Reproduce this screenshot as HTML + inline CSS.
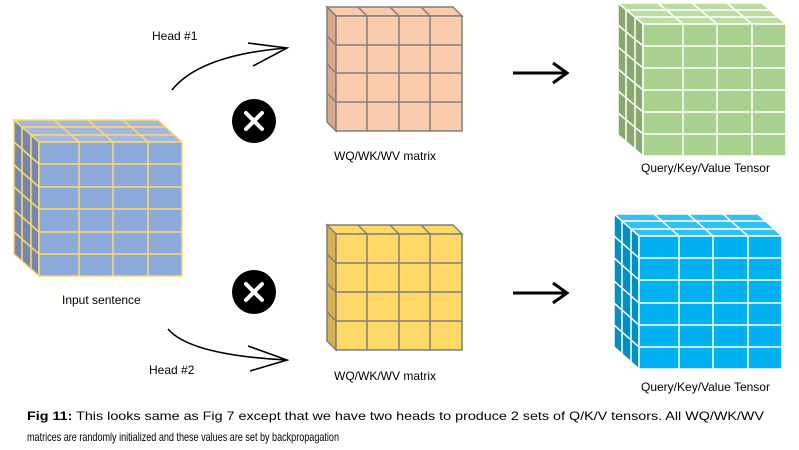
<!DOCTYPE html>
<html><head><meta charset="utf-8"><style>
html,body{margin:0;padding:0;background:#fff;}
svg{display:block;}
text{font-family:"Liberation Sans",sans-serif;font-size:12px;fill:#000;}
</style></head><body>
<svg width="799" height="450" viewBox="0 0 799 450" xmlns="http://www.w3.org/2000/svg">
<rect width="799" height="450" fill="#fff"/>

<!-- Input cube -->
<g stroke="#ffd966" stroke-width="1.5">
<polygon points="14,120 158,120 182,142 39,142" fill="#a3b6e0"/>
<polygon points="14,120 39,142 39,276 14,254" fill="#7387b0"/>
<line x1="22" y1="127" x2="166" y2="127"/><line x1="31" y1="135" x2="174" y2="135"/>
<line x1="22" y1="127" x2="22" y2="261"/><line x1="31" y1="135" x2="31" y2="269"/>
<line x1="54" y1="120" x2="79" y2="142"/><line x1="88" y1="120" x2="113" y2="142"/><line x1="123" y1="120" x2="148" y2="142"/>
<line x1="14" y1="142" x2="39" y2="164"/><line x1="14" y1="165" x2="39" y2="187"/><line x1="14" y1="187" x2="39" y2="209"/><line x1="14" y1="210" x2="39" y2="232"/><line x1="14" y1="232" x2="39" y2="254"/>
<rect x="39" y="142" width="143" height="134" fill="#8eaadb"/>
<line x1="79" y1="142" x2="79" y2="276"/><line x1="113" y1="142" x2="113" y2="276"/><line x1="148" y1="142" x2="148" y2="276"/>
<line x1="39" y1="164" x2="182" y2="164"/><line x1="39" y1="187" x2="182" y2="187"/><line x1="39" y1="209" x2="182" y2="209"/><line x1="39" y1="232" x2="182" y2="232"/><line x1="39" y1="254" x2="182" y2="254"/>
</g>

<!-- Orange matrix -->
<g stroke="#7f7f7f" stroke-width="1.5">
<polygon points="327,7 453,7 462,16 336,16" fill="#f8cbad"/>
<polygon points="327,7 336,16 336,131 327,122" fill="#d6a88a"/>
<line x1="358" y1="7" x2="367" y2="16"/><line x1="390" y1="7" x2="399" y2="16"/><line x1="421" y1="7" x2="430" y2="16"/>
<line x1="327" y1="36" x2="336" y2="45"/><line x1="327" y1="64" x2="336" y2="73"/><line x1="327" y1="93" x2="336" y2="102"/>
<rect x="336" y="16" width="126" height="115" fill="#f8cbad"/>
<line x1="367" y1="16" x2="367" y2="131"/><line x1="399" y1="16" x2="399" y2="131"/><line x1="430" y1="16" x2="430" y2="131"/>
<line x1="336" y1="45" x2="462" y2="45"/><line x1="336" y1="73" x2="462" y2="73"/><line x1="336" y1="102" x2="462" y2="102"/>
</g>

<!-- Yellow matrix -->
<g stroke="#7f7f7f" stroke-width="1.5">
<polygon points="327,225 453,225 462,234 336,234" fill="#ffd966"/>
<polygon points="327,225 336,234 336,350 327,341" fill="#d4b24f"/>
<line x1="358" y1="225" x2="367" y2="234"/><line x1="390" y1="225" x2="399" y2="234"/><line x1="421" y1="225" x2="430" y2="234"/>
<line x1="327" y1="254" x2="336" y2="263"/><line x1="327" y1="283" x2="336" y2="292"/><line x1="327" y1="312" x2="336" y2="321"/>
<rect x="336" y="234" width="126" height="116" fill="#ffd966"/>
<line x1="367" y1="234" x2="367" y2="350"/><line x1="399" y1="234" x2="399" y2="350"/><line x1="430" y1="234" x2="430" y2="350"/>
<line x1="336" y1="263" x2="462" y2="263"/><line x1="336" y1="292" x2="462" y2="292"/><line x1="336" y1="321" x2="462" y2="321"/>
</g>

<!-- Green tensor -->
<g stroke="#fff" stroke-width="1.5">
<polygon points="618,3 762,3 786,24 643,24" fill="#bcdca4"/>
<polygon points="618,3 643,24 643,156 618,135" fill="#88a86e"/>
<line x1="626" y1="10" x2="770" y2="10"/><line x1="635" y1="17" x2="778" y2="17"/>
<line x1="626" y1="10" x2="626" y2="142"/><line x1="635" y1="17" x2="635" y2="149"/>
<line x1="658" y1="3" x2="683" y2="24"/><line x1="692" y1="3" x2="717" y2="24"/><line x1="727" y1="3" x2="752" y2="24"/>
<line x1="618" y1="25" x2="643" y2="46"/><line x1="618" y1="47" x2="643" y2="68"/><line x1="618" y1="69" x2="643" y2="90"/><line x1="618" y1="91" x2="643" y2="112"/><line x1="618" y1="113" x2="643" y2="134"/>
<rect x="643" y="24" width="143" height="132" fill="#a9d18e"/>
<line x1="683" y1="24" x2="683" y2="156"/><line x1="717" y1="24" x2="717" y2="156"/><line x1="752" y1="24" x2="752" y2="156"/>
<line x1="643" y1="46" x2="786" y2="46"/><line x1="643" y1="68" x2="786" y2="68"/><line x1="643" y1="90" x2="786" y2="90"/><line x1="643" y1="112" x2="786" y2="112"/><line x1="643" y1="134" x2="786" y2="134"/>
</g>

<!-- Blue tensor -->
<g stroke="#fff" stroke-width="1.5">
<polygon points="614,214 758,214 782,236 639,236" fill="#33c1f3"/>
<polygon points="614,214 639,236 639,369 614,347" fill="#0090c4"/>
<line x1="622" y1="221" x2="766" y2="221"/><line x1="631" y1="229" x2="774" y2="229"/>
<line x1="622" y1="221" x2="622" y2="354"/><line x1="631" y1="229" x2="631" y2="362"/>
<line x1="654" y1="214" x2="679" y2="236"/><line x1="688" y1="214" x2="713" y2="236"/><line x1="723" y1="214" x2="748" y2="236"/>
<line x1="614" y1="236" x2="639" y2="258"/><line x1="614" y1="258" x2="639" y2="280"/><line x1="614" y1="281" x2="639" y2="303"/><line x1="614" y1="303" x2="639" y2="325"/><line x1="614" y1="325" x2="639" y2="347"/>
<rect x="639" y="236" width="143" height="133" fill="#00b0f0"/>
<line x1="679" y1="236" x2="679" y2="369"/><line x1="713" y1="236" x2="713" y2="369"/><line x1="748" y1="236" x2="748" y2="369"/>
<line x1="639" y1="258" x2="782" y2="258"/><line x1="639" y1="280" x2="782" y2="280"/><line x1="639" y1="303" x2="782" y2="303"/><line x1="639" y1="325" x2="782" y2="325"/><line x1="639" y1="347" x2="782" y2="347"/>
</g>

<!-- X circles -->
<circle cx="254" cy="121" r="22" fill="#000"/>
<path d="M246,113 L262,129 M262,113 L246,129" stroke="#fff" stroke-width="4" stroke-linecap="round"/>
<circle cx="254" cy="292" r="22" fill="#000"/>
<path d="M246,284 L262,300 M262,284 L246,300" stroke="#fff" stroke-width="4" stroke-linecap="round"/>

<!-- curved arrows -->
<g fill="none" stroke="#000" stroke-width="1.6">
<path d="M172,90 Q200,55 287,48"/>
<path d="M248,43 L287,48 L253,66"/>
<path d="M168,329 Q190,355 287,360"/>
<path d="M248,346 L287,360 L250,371"/>
</g>
<!-- straight arrows -->
<g fill="none" stroke="#000" stroke-width="3">
<line x1="513" y1="73" x2="566" y2="73"/><path d="M553,63 L567,73 L553,83"/>
<line x1="513" y1="293" x2="566" y2="293"/><path d="M553,283 L567,293 L553,303"/>
</g>

<text x="152" y="40">Head #1</text>
<text x="334" y="160">WQ/WK/WV matrix</text>
<text x="641" y="172">Query/Key/Value Tensor</text>
<text x="62" y="304">Input sentence</text>
<text x="149" y="374">Head #2</text>
<text x="334" y="380">WQ/WK/WV matrix</text>
<text x="641" y="391">Query/Key/Value Tensor</text>

<text x="27" y="420" textLength="737" lengthAdjust="spacingAndGlyphs"><tspan font-weight="bold">Fig 11:</tspan> This looks same as Fig 7 except that we have two heads to produce 2 sets of Q/K/V tensors. All WQ/WK/WV</text>
<text x="27" y="441" textLength="312" lengthAdjust="spacingAndGlyphs">matrices are randomly initialized and these values are set by backpropagation</text>
</svg>
</body></html>
